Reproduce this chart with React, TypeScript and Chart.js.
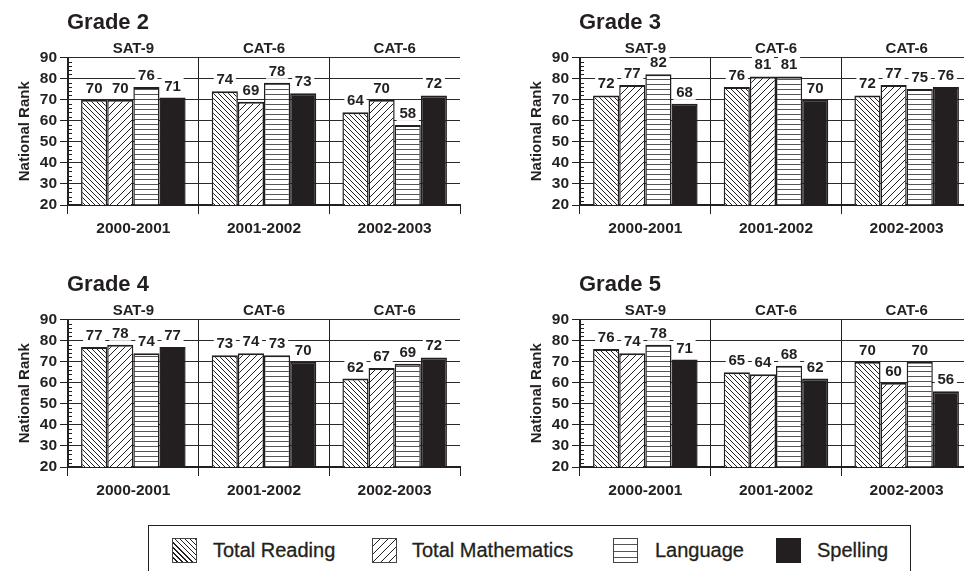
import React, { useEffect, useRef } from 'react';
import { Chart, registerables } from 'chart.js';

Chart.register(...registerables);

const INK = '#231f20';
const FONT = "'Liberation Sans', Arial, Helvetica, sans-serif";

// ---- data ----
const years = ['2000-2001', '2001-2002', '2002-2003'];
const tests = ['SAT-9', 'CAT-6', 'CAT-6'];
const seriesNames = ['Total Reading', 'Total Mathematics', 'Language', 'Spelling'];
const gradeTitles = ['Grade 2', 'Grade 3', 'Grade 4', 'Grade 5'];
const yMin = 20;
const yMax = 90;
const yStep = 10;
const axisTitle = 'National Rank';

const grade2Reading = [70, 74, 64];
const grade2Math = [70, 69, 70];
const grade2Language = [76, 78, 58];
const grade2Spelling = [71, 73, 72];

const grade3Reading = [72, 76, 72];
const grade3Math = [77, 81, 77];
const grade3Language = [82, 81, 75];
const grade3Spelling = [68, 70, 76];

const grade4Reading = [77, 73, 62];
const grade4Math = [78, 74, 67];
const grade4Language = [74, 73, 69];
const grade4Spelling = [77, 70, 72];

const grade5Reading = [76, 65, 70];
const grade5Math = [74, 64, 60];
const grade5Language = [78, 68, 70];
const grade5Spelling = [71, 62, 56];

const gradeSeries = [
  [grade2Reading, grade2Math, grade2Language, grade2Spelling],
  [grade3Reading, grade3Math, grade3Language, grade3Spelling],
  [grade4Reading, grade4Math, grade4Language, grade4Spelling],
  [grade5Reading, grade5Math, grade5Language, grade5Spelling],
];

// ---- layout ----
const CW = 480;
const CH = 250;
const panelPos = [
  { left: 0, top: 0 },
  { left: 512, top: 0 },
  { left: 0, top: 262 },
  { left: 512, top: 262 },
];

function makeHatch(kind: 'back' | 'fwd' | 'horiz', period: number): CanvasPattern | string {
  const c = document.createElement('canvas');
  c.width = period;
  c.height = period;
  const g = c.getContext('2d');
  if (!g) return '#fff';
  g.fillStyle = '#fff';
  g.fillRect(0, 0, period, period);
  g.lineWidth = 1;
  g.beginPath();
  if (kind === 'horiz') {
    g.strokeStyle = '#555';
    g.moveTo(0, period - 0.5);
    g.lineTo(period, period - 0.5);
  } else {
    g.strokeStyle = INK;
    for (const k of [-1, 0, 1]) {
      if (kind === 'back') {
        g.moveTo(k * period, 0);
        g.lineTo(k * period + period, period);
      } else {
        g.moveTo(k * period, period);
        g.lineTo(k * period + period, 0);
      }
    }
  }
  g.stroke();
  return g.createPattern(c, 'repeat') || '#fff';
}

function Panel({ idx }: { idx: number }) {
  const ref = useRef<HTMLCanvasElement | null>(null);
  useEffect(() => {
    const canvas = ref.current;
    if (!canvas) return;
    const fills = [makeHatch('back', 5), makeHatch('fwd', 7), makeHatch('horiz', 5), INK];
    const values = gradeSeries[idx];
    const title = gradeTitles[idx];

    const decor = {
      id: 'decor',
      afterDatasetsDraw(chart: any) {
        const ctx = chart.ctx as CanvasRenderingContext2D;
        ctx.save();
        ctx.font = `bold 15px ${FONT}`;
        ctx.textAlign = 'center';
        ctx.textBaseline = 'alphabetic';
        chart.data.datasets.forEach((ds: any, di: number) => {
          const meta = chart.getDatasetMeta(di);
          meta.data.forEach((el: any, i: number) => {
            const w = el.width;
            const base = el.y - 7;
            ctx.fillStyle = '#fff';
            ctx.fillRect(el.x - w / 2 + 2, base - 13.5, w - 4, 16.5);
            ctx.fillStyle = INK;
            ctx.fillText(String(ds.data[i]), el.x, base);
          });
        });
        ctx.restore();
      },
      afterDraw(chart: any) {
        const ctx = chart.ctx as CanvasRenderingContext2D;
        const ys = chart.scales.y;
        const ax = chart.chartArea.left;
        ctx.save();
        ctx.strokeStyle = INK;
        ctx.lineWidth = 1;
        ctx.beginPath();
        for (let v = yMin + 2; v < yMax; v += 2) {
          if (v % yStep === 0) continue;
          const py = Math.round(ys.getPixelForValue(v)) + 0.5;
          ctx.moveTo(ax, py);
          ctx.lineTo(ax + 4, py);
        }
        ctx.stroke();
        ctx.fillStyle = INK;
        ctx.font = `bold 22px ${FONT}`;
        ctx.textAlign = 'left';
        ctx.textBaseline = 'alphabetic';
        ctx.fillText(title, ax - 1, 28.5);
        ctx.restore();
      },
    };

    const chart = new Chart(canvas, {
      type: 'bar',
      data: {
        labels: years,
        datasets: seriesNames.map((name, i) => ({
          label: name,
          data: values[i],
          xAxisID: 'x',
          yAxisID: 'y',
          backgroundColor: fills[i] as any,
          borderColor: INK,
          borderWidth: { top: 2, left: 1.5, right: 1.5, bottom: 0 },
          borderSkipped: false,
          categoryPercentage: 0.8,
          barPercentage: 1,
        })),
      },
      options: {
        animation: false,
        responsive: false,
        maintainAspectRatio: false,
        layout: { padding: { top: 38, right: 20, left: 0, bottom: 0 } },
        plugins: {
          legend: { display: false },
          tooltip: { enabled: false },
        },
        scales: {
          x: {
            type: 'category',
            position: 'bottom',
            offset: true,
            grid: {
              offset: true,
              display: true,
              drawOnChartArea: true,
              color: (c: any) => (c.type === 'tick' ? INK : 'rgba(0,0,0,0)'),
              tickColor: INK,
              tickLength: 9,
              lineWidth: 1,
            },
            border: { display: true, color: INK, width: 2 },
            ticks: {
              color: INK,
              font: { family: FONT, size: 15.5, weight: 'bold' },
              padding: 5,
              maxRotation: 0,
              autoSkip: false,
            },
            afterFit: (s: any) => {
              s.height = 45;
            },
          },
          x2: {
            type: 'category',
            labels: tests,
            position: 'top',
            offset: true,
            grid: { display: false, drawTicks: false, tickLength: 0 },
            border: { display: false },
            ticks: {
              color: INK,
              font: { family: FONT, size: 15, weight: 'bold' },
              padding: 0,
              maxRotation: 0,
              autoSkip: false,
            },
            afterFit: (s: any) => {
              s.height = 19.5;
            },
          },
          y: {
            type: 'linear',
            min: yMin,
            max: yMax,
            ticks: {
              stepSize: yStep,
              autoSkip: false,
              color: INK,
              font: { family: FONT, size: 15.5, weight: 'bold' },
              padding: 3,
            },
            grid: { color: '#2a2a2a', lineWidth: 1, tickLength: 8, tickColor: INK, drawTicks: true },
            border: { display: true, color: INK, width: 2 },
            title: {
              display: true,
              text: axisTitle,
              color: INK,
              font: { family: FONT, size: 15, weight: 'bold' },
              padding: { top: 16, bottom: 0 },
            },
            afterFit: (s: any) => {
              s.width = 68;
            },
          },
        },
      } as any,
      plugins: [decor],
    });
    return () => chart.destroy();
  }, [idx]);

  const pos = panelPos[idx];
  return (
    <canvas
      ref={ref}
      width={CW}
      height={CH}
      style={{ position: 'absolute', left: pos.left, top: pos.top, width: CW, height: CH }}
    />
  );
}

const legendSwatchX = [172, 372, 613, 776];
const legendTextX = [213, 412, 655, 817];
const swatchBg = [
  `repeating-linear-gradient(45deg, #fff 0px, #fff 2.6px, ${INK} 2.6px, ${INK} 3.6px)`,
  `repeating-linear-gradient(-45deg, #fff 0px, #fff 4.6px, ${INK} 4.6px, ${INK} 5.6px)`,
  'repeating-linear-gradient(180deg, #fff 0px, #fff 5.5px, #555 5.5px, #555 6.5px)',
  INK,
];

export default function App() {
  return (
    <div
      style={{
        position: 'absolute',
        left: 0,
        top: 0,
        width: 964,
        height: 571,
        overflow: 'hidden',
        background: '#fff',
        fontFamily: FONT,
      }}
    >
      {gradeTitles.map((_, i) => (
        <Panel key={i} idx={i} />
      ))}
      <div
        style={{
          position: 'absolute',
          left: 148,
          top: 525,
          width: 763,
          height: 80,
          border: `1.5px solid ${INK}`,
          boxSizing: 'border-box',
        }}
      />
      {seriesNames.map((name, i) => (
        <React.Fragment key={name}>
          <div
            style={{
              position: 'absolute',
              left: legendSwatchX[i],
              top: 538,
              width: 25,
              height: 25,
              boxSizing: 'border-box',
              border: i === 3 ? `1px solid ${INK}` : '1px solid #444',
              background: swatchBg[i],
            }}
          />
          <div
            style={{
              position: 'absolute',
              left: legendTextX[i],
              top: 538,
              height: 25,
              lineHeight: '25px',
              fontSize: 20,
              color: INK,
              whiteSpace: 'nowrap',
              WebkitTextStroke: `0.3px ${INK}`,
            }}
          >
            {name}
          </div>
        </React.Fragment>
      ))}
    </div>
  );
}
